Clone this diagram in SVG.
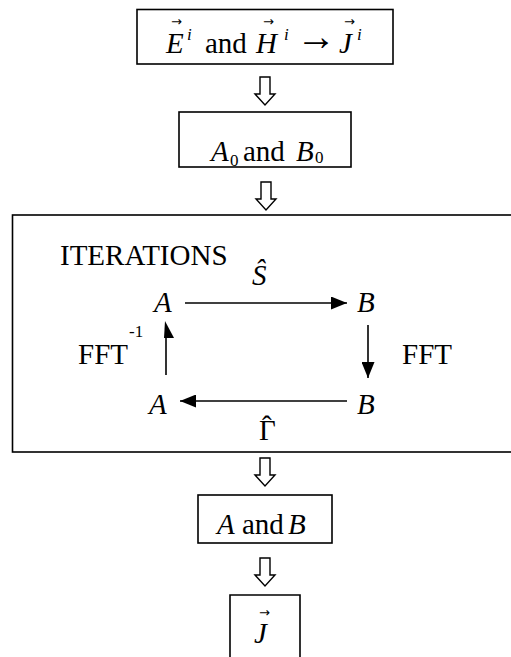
<svg xmlns="http://www.w3.org/2000/svg" width="511" height="657" viewBox="0 0 511 657">
<defs>
<style>
.box{fill:none;stroke:#000;stroke-width:1.6}
.t{font-family:"Liberation Serif","Times New Roman",serif;font-size:29px;fill:#000}
.i{font-style:italic}
.sup{font-family:"Liberation Serif","Times New Roman",serif;font-size:17px;fill:#000}
.vec{font-family:"DejaVu Sans",sans-serif;font-size:13px;fill:#000}
.arr{font-family:"Liberation Serif","Times New Roman",serif;font-size:40px;fill:#000}
.dbl{fill:#fff;stroke:#000;stroke-width:1.4}
.ln{stroke:#000;stroke-width:1.6;fill:none}
</style>
<marker id="ah" viewBox="0 0 16 13" refX="16" refY="6.5" markerWidth="16" markerHeight="13" markerUnits="userSpaceOnUse" orient="auto">
<path d="M0,0 L16,6.5 L0,13 Z" fill="#000"/>
</marker>
<path id="dn" d="M-5,0 H5 V17 H10 L0,28 L-10,17 H-5 Z"/>
</defs>
<rect width="511" height="657" fill="#fff"/>

<g id="node-incident">
<rect class="box" x="137" y="9.5" width="256" height="54.5"/>
<text class="t i" x="166" y="53">E</text>
<text class="vec" x="171" y="26">→</text>
<text class="sup i" x="187" y="40">i</text>
<text class="t" x="205" y="53">and</text>
<text class="t i" x="256" y="53">H</text>
<text class="vec" x="263" y="26">→</text>
<text class="sup i" x="284" y="40">i</text>
<text class="arr" x="296" y="50">→</text>
<text class="t i" x="339" y="53">J</text>
<text class="vec" x="344" y="26">→</text>
<text class="sup i" x="357" y="40">i</text>
</g>

<g id="node-initial">
<rect class="box" x="179" y="112" width="172" height="55"/>
<text class="t i" x="211" y="161">A</text>
<text class="sup" x="230" y="166">0</text>
<text class="t" x="243" y="161">and</text>
<text class="t i" x="296" y="161">B</text>
<text class="sup" x="315" y="163">0</text>
</g>

<g id="node-iterations">
<rect class="box" x="12.5" y="215" width="520" height="237"/>
<text class="t" x="60" y="265">ITERATIONS</text>
</g>

<g id="node-A-top"><text class="t i" x="154" y="312">A</text></g>
<g id="node-B-top"><text class="t i" x="357" y="312">B</text></g>
<g id="node-A-bottom"><text class="t i" x="149" y="414">A</text></g>
<g id="node-B-bottom"><text class="t i" x="357" y="414">B</text></g>

<g id="node-final-AB">
<rect class="box" x="198" y="495" width="134" height="48"/>
<text class="t i" x="217" y="534">A</text>
<text class="t" x="242" y="534">and</text>
<text class="t i" x="288" y="534">B</text>
</g>

<g id="node-J">
<path class="box" d="M230,660 V595 H300 V660"/>
<text class="t i" x="254" y="643">J</text>
<text class="vec" x="259" y="617">→</text>
</g>

<g id="connectors">
<use href="#dn" class="dbl" x="265" y="77"/>
<use href="#dn" class="dbl" x="266" y="182"/>
<use href="#dn" class="dbl" x="265" y="458"/>
<use href="#dn" class="dbl" x="265" y="558"/>

<line class="ln" x1="185" y1="303" x2="347" y2="303" marker-end="url(#ah)"/>
<text class="t i" x="252" y="285">Ŝ</text>

<line class="ln" x1="368" y1="325" x2="368" y2="378" marker-end="url(#ah)"/>
<text class="t" x="402" y="364">FFT</text>

<line class="ln" x1="347" y1="401" x2="180" y2="401" marker-end="url(#ah)"/>
<text class="t" x="259" y="440" font-size="25">Γ</text>
<text class="t" x="262" y="436">ˆ</text>

<line class="ln" x1="166" y1="375" x2="166" y2="336"/>
<polygon points="165,321 174,338 164,338" fill="#000"/>
<text class="t" x="78" y="364">FFT</text>
<text class="sup" x="129" y="337">-1</text>
</g>
</svg>
